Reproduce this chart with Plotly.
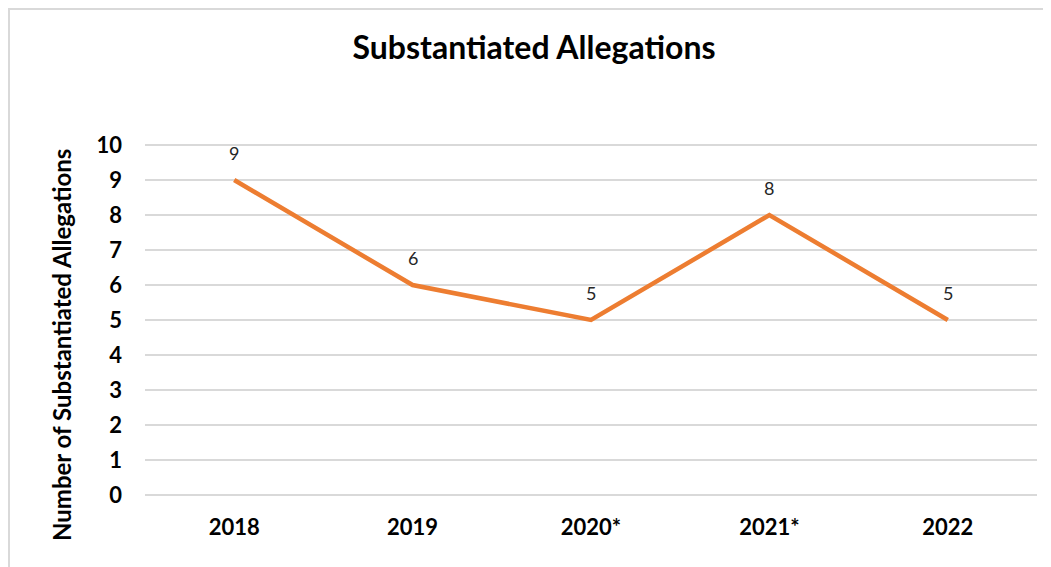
import plotly.graph_objects as go

years = ["2018", "2019", "2020*", "2021*", "2022"]
allegations = [9, 6, 5, 8, 5]
y_ticks = list(range(0, 11))

W, H = 1051, 567
OFF = 8  # page body margin in the screenshot
# plot area in screenshot pixels: x 145..1037, y 144..496
L = 145 - OFF
T = 144 - OFF
R = W - (1037 - OFF)
B = H - (496 - OFF)
pw, ph = W - L - R, H - T - B

def px_x(p):
    return (p - OFF - L) / pw

def px_y(p):
    return (H - B - (p - OFF)) / ph

FONT = "Lato"

fig = go.Figure()
fig.add_trace(go.Scatter(
    x=years, y=allegations, mode="lines",
    line=dict(color="#ED7D31", width=4.5),
    hoverinfo="x+y", showlegend=False,
))

for i, yv in enumerate(allegations):
    fig.add_annotation(x=i, y=yv, xref="x", yref="y", text=str(yv), showarrow=False,
                       yshift=27, font=dict(family=FONT, size=18, color="#262626"))

# y-axis title placed as in the reference (slightly below plot centre)
fig.add_annotation(x=px_x(61), y=px_y(345), xref="paper", yref="paper",
                   text="<b>Number of Substantiated Allegations</b>", textangle=-90,
                   showarrow=False, xanchor="center", yanchor="middle",
                   font=dict(family=FONT, size=24, color="black"))

fig.add_shape(type="rect", xref="paper", yref="paper",
              x0=px_x(9), x1=px_x(1070), y0=px_y(590), y1=px_y(9),
              line=dict(color="#D9D9D9", width=2), layer="below")

fig.update_layout(
    width=W, height=H,
    margin=dict(l=L, r=R, t=T, b=B),
    paper_bgcolor="white", plot_bgcolor="white",
    title=dict(text="<b>Substantiated Allegations</b>", x=(534 - OFF) / W, xanchor="center",
               y=1 - (48 - OFF) / H, yanchor="middle", yref="container",
               font=dict(family=FONT, size=32, color="black")),
    xaxis=dict(type="category", range=[-0.5, 4.5], showgrid=False, showline=False,
               zeroline=False, ticks="", ticklabelstandoff=16, automargin=False,
               tickfont=dict(family=FONT, size=22, color="black", weight="bold")),
    yaxis=dict(range=[-0.03, 10.03], tickvals=y_ticks, showgrid=True, gridcolor="#D9D9D9",
               gridwidth=1.5, zeroline=False, showline=False, ticks="",
               ticklabelstandoff=22, automargin=False,
               tickfont=dict(family=FONT, size=22, color="black", weight="bold")),
)

fig.write_html("out.html")
